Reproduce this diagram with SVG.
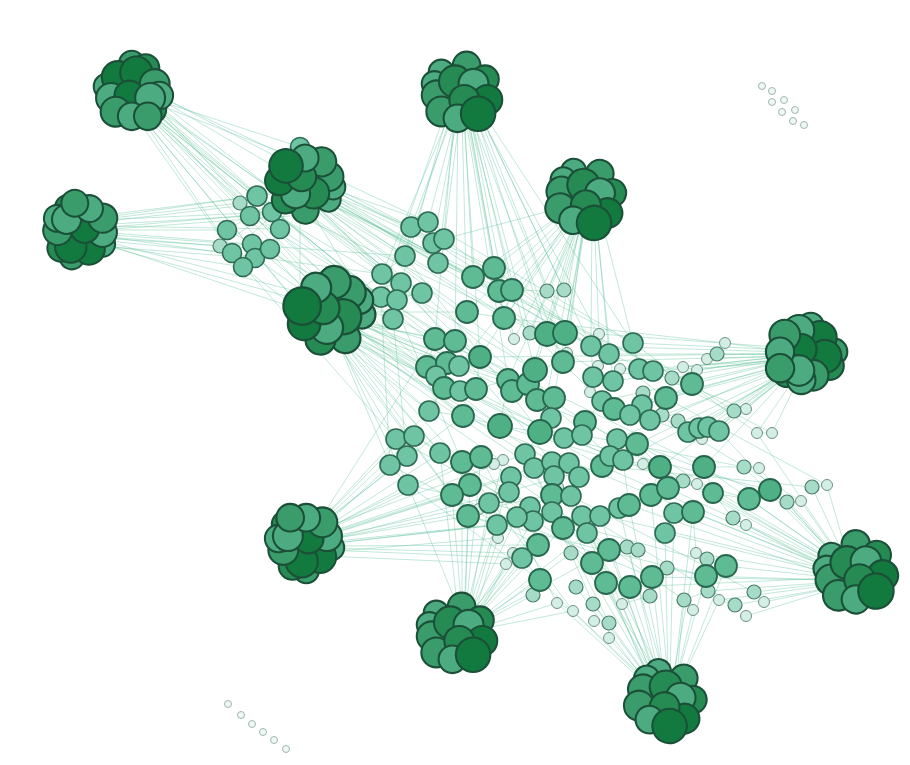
<svg xmlns="http://www.w3.org/2000/svg" xmlns:xlink="http://www.w3.org/1999/xlink" width="910" height="765" viewBox="0 0 910 765">
<style>
.e{fill:none;stroke:#5fc29c;stroke-width:0.55;stroke-opacity:0.7}
.a{fill:#4fb085;stroke:#23634a;stroke-width:1.8}
.b{fill:#5ebb94;stroke:#28684f;stroke-width:1.8}
.c{fill:#6fc5a3;stroke:#2d6b54;stroke-width:1.6}
.s{fill:#a6dbc7;stroke:#4b7d6b;stroke-width:1.2}
.t{fill:#d3eee5;stroke:#6e9287;stroke-width:1}
.i{fill:#eef8f5;stroke:#a3b5b1;stroke-width:1}
.d1,.d2,.d3,.d4{stroke:#1b4f38;stroke-width:1.8}
.d1{fill:#127a3e}.d2{fill:#258b53}.d3{fill:#3a9c6a}.d4{fill:#4cab80}
</style>
<defs>
<g id="clA">
<circle class="d3" cx="-2" cy="-24" r="11"/>
<circle class="d4" cx="-24" cy="-4" r="11"/>
<circle class="d2" cx="10" cy="-20" r="12"/>
<circle class="d1" cx="-14" cy="-12" r="14"/>
<circle class="d1" cx="2" cy="-16" r="14"/>
<circle class="d3" cx="18" cy="-6" r="13"/>
<circle class="d4" cx="-20" cy="6" r="13"/>
<circle class="d1" cx="-4" cy="4" r="13"/>
<circle class="d2" cx="16" cy="16" r="12"/>
<circle class="d4" cx="22" cy="4" r="12"/>
<circle class="d3" cx="-16" cy="18" r="13"/>
<circle class="d4" cx="14" cy="6" r="13"/>
<circle class="d4" cx="-2" cy="22" r="12"/>
<circle class="d3" cx="12" cy="22" r="12"/>
</g>
<g id="clB">
<circle class="d4" cx="-18" cy="-18" r="11"/>
<circle class="d4" cx="-24" cy="-8" r="11"/>
<circle class="d3" cx="4" cy="-24" r="12"/>
<circle class="d2" cx="20" cy="-12" r="12"/>
<circle class="d3" cx="-22" cy="2" r="13"/>
<circle class="d2" cx="-6" cy="-10" r="14"/>
<circle class="d4" cx="10" cy="-8" r="13"/>
<circle class="d1" cx="22" cy="6" r="13"/>
<circle class="d3" cx="-18" cy="16" r="13"/>
<circle class="d2" cx="2" cy="6" r="13"/>
<circle class="d4" cx="-4" cy="22" r="12"/>
<circle class="d1" cx="14" cy="18" r="15"/>
</g>
</defs>
<rect width="910" height="765" fill="#ffffff"/>
<g id="connectors">
<path class="e" d="M140 100L250 216M138 98L257 196M142 102L272 212M136 104L280 229M144 96L300 147M146 100L296 158M140 106L310 282M150 98L330 300M148 104L345 295M144 108L360 320M152 96L382 274M150 102L401 283M146 110L381 297M154 100L393 319M156 94L411 227M152 106L422 293M148 112L435 339M154 108L459 366M140 110L427 367M134 108L320 330M142 112L350 340M138 112L304 312M150 92L428 222M136 110L243 267M132 112L232 253M158 98L438 263"/>
<path class="e" d="M95 220L240 203M96 225L250 216M98 230L227 230M96 236L220 246M98 240L232 253M100 232L252 244M100 238L270 249M98 244L243 267M100 226L280 229M100 222L290 200M100 218L300 190M100 228L310 210M100 240L330 300M100 244L300 300M98 234L405 256M100 236L382 274M100 242L330 320M98 216L257 196M100 220L272 212M96 246L255 258M100 230L290 216"/>
<path class="e" d="M320 190L411 227M322 186L428 222M320 196L405 256M324 192L433 243M322 200L438 263M326 194L473 277M328 188L494 268M324 198L499 291M326 202L512 290M318 204L467 312M322 206L504 318M330 196L547 334M328 192L565 333M330 200L591 346M332 190L633 343M318 208L455 341M320 210L480 357M324 208L535 370M326 206L613 381M330 204L692 384M290 190L250 216M288 186L240 203M288 194L227 230M292 196L270 249M290 198L232 253M288 200L220 246M316 206L422 293M312 206L382 274M314 208L401 283M300 200L300 280M310 210L360 290"/>
<path class="e" d="M345 318L435 339M346 322L455 341M344 326L427 367M348 320L459 366M350 316L480 357M346 330L444 388M342 334L429 411M348 332L463 416M350 326L500 426M340 338L414 436M336 340L396 439M338 342L390 465M340 344L408 485M344 338L440 453M346 336L462 462M352 318L508 380M352 322L528 384M350 330L554 398M348 334L540 432M352 326L564 438M350 320L585 422M348 338L552 462M346 340L534 468M350 336L525 454M350 328L602 466M344 344L470 485M342 346L468 516M340 348L452 495M345 300L382 274M346 296L401 283M348 304L393 319M350 308L422 293M352 312L467 312M348 340L610 456"/>
<path class="e" d="M455 110L411 227M457 112L428 222M452 112L405 256M458 114L433 243M460 114L444 239M456 116L438 263M464 114L473 277M466 112L494 268M468 114L499 291M470 112L512 290M462 116L467 312M468 116L504 318M474 110L547 334M476 108L565 333M472 108L547 291M476 106L564 290M470 116L514 339M472 114L530 333M454 118L435 339M458 118L455 341M464 118L480 357M470 118L535 370M478 110L591 346M450 114L382 274M472 118L563 362M478 112L609 354M466 120L508 380M448 112L401 283M446 110L381 297M480 108L633 343"/>
<path class="e" d="M580 212L547 291M584 214L564 290M576 214L512 290M574 212L499 291M578 216L504 318M580 216L514 339M582 218L530 333M584 216L547 334M586 218L565 333M584 220L567 353M586 220L563 362M580 220L535 370M578 220L528 384M584 222L554 398M572 214L480 357M572 210L467 312M570 208L473 277M574 206L494 268M592 216L591 346M594 216L599 334M596 216L609 354M578 222L508 380M574 218L459 366M580 224L540 432M600 214L633 343M568 206L444 239M596 218L613 381"/>
<path class="e" d="M790 352L725 343M790 356L707 359M792 354L717 354M790 360L692 384M790 358L697 370M790 356L683 367M792 358L672 378M790 362L653 371M790 360L639 369M788 350L633 343M788 354L609 354M790 348L599 334M792 362L666 398M790 366L642 405M794 366L699 428M796 364L708 427M796 368L719 431M796 366L734 411M798 364L746 409M792 368L688 432M792 370L660 467M794 370L704 467M790 368L650 420M790 370L637 444M788 364L617 439M788 360L602 401M788 358L613 381M788 356L593 377M786 352L591 346M800 370L757 433M802 372L772 433M792 372L623 460M786 356L563 362M786 354L480 357M790 364L614 409M798 368L702 439"/>
<path class="e" d="M840 560L770 490M838 562L749 499M836 564L713 493M836 560L704 467M834 566L683 481M836 566L668 488M836 570L693 512M834 572L674 513M834 574L665 533M834 570L651 495M832 576L629 505M836 578L726 566M834 580L706 576M834 576L696 553M836 582L708 591M838 584L719 600M840 586L735 605M840 582L754 592M842 586L764 602M838 574L733 518M840 572L746 525M842 566L787 502M844 564L801 501M846 560L812 487M848 558L827 485M840 564L744 467M842 562L759 468M834 562L660 467M832 560L637 444M836 556L719 431M840 556L757 433M832 580L652 577M832 578L630 587M834 568L602 466M830 570L609 517M836 588L746 616"/>
<path class="e" d="M320 530L390 465M322 532L408 485M318 528L407 456M316 526L396 439M318 526L414 436M324 536L452 495M324 534L470 485M326 540L468 516M326 538L489 503M326 544L497 525M326 548L513 553M326 550L522 558M322 530L440 453M324 530L462 462M324 532L481 457M326 536L511 477M318 524L429 411M320 524L463 416M326 534L534 468M326 540L552 495M326 546L538 545M326 544L533 521M328 540L602 466M326 552L498 538M326 556L506 564M320 520L435 339M324 528L525 454M326 542L582 516"/>
<path class="e" d="M465 615L468 516M468 616L489 503M470 618L497 525M472 620L513 553M474 620L522 558M472 622L498 538M474 624L506 564M476 626L533 595M476 622L540 580M474 618L538 545M470 614L517 517M472 614L533 521M474 616L552 512M476 618L563 528M478 620L587 533M462 612L452 495M464 612L470 485M468 612L511 477M478 628L557 603M478 624L571 553M458 612L440 453M462 610L462 462M466 610L481 457M472 612L579 477M478 622L609 550M466 612L503 460M460 612L408 485M476 630L573 611"/>
<path class="e" d="M655 680L592 563M658 680L609 550M652 682L606 583M660 680L630 587M664 680L652 577M650 684L573 611M652 684L593 604M654 686L609 623M656 684L622 604M654 688L609 638M648 686L557 603M650 682L587 533M656 680L600 516M660 678L619 508M664 678L629 505M668 678L651 495M670 678L674 513M674 680L693 512M672 682L696 553M676 682L706 576M676 686L684 600M674 688L693 610M680 684L719 600M680 682L726 566M650 688L576 587M652 680L563 528M654 678L582 516M658 676L552 495M662 676L571 496M648 684L540 580M668 676L665 533M664 676L627 547"/>
<path class="e" d="M411 227L428 222M411 227L405 256M428 222L444 239M433 243L438 263M405 256L382 274M382 274L401 283M401 283L381 297M397 300L393 319M422 293L401 283M438 263L473 277M473 277L494 268M494 268L499 291M499 291L512 290M467 312L504 318M504 318L514 339M512 290L547 291M547 291L564 290M530 333L547 334M547 334L565 333M565 333L591 346M591 346L609 354M609 354L633 343M435 339L455 341M455 341L480 357M427 367L447 363M447 363L459 366M436 376L444 388M460 391L476 389M476 389L508 380M508 380L528 384M528 384L535 370M512 391L537 400M537 400L554 398M554 398L551 418M551 418L540 432M540 432L564 438M564 438L582 435M582 435L585 422M585 422L602 401M602 401L614 409M614 409L642 405M642 405L666 398M666 398L692 384M692 384L672 378M639 369L653 371M613 381L593 377M620 369L639 369M630 415L650 420M617 439L637 444M637 444L660 467M688 432L699 428M708 427L719 431M719 431L734 411M734 411L746 409M757 433L772 433M429 411L463 416M463 416L500 426M500 426L540 432M396 439L414 436M407 456L390 465M390 465L408 485M440 453L462 462M462 462L481 457M481 457L511 477M470 485L452 495M452 495L468 516M468 516L489 503M489 503L509 492M509 492L530 507M530 507L552 495M552 495L571 496M571 496L582 516M582 516L600 516M600 516L619 508M619 508L629 505M629 505L651 495M651 495L668 488M668 488L683 481M683 481L704 467M704 467L713 493M713 493L749 499M749 499L770 490M770 490L787 502M787 502L801 501M812 487L827 485M744 467L759 468M733 518L746 525M525 454L534 468M534 468L552 462M552 462L569 463M569 463L579 477M579 477L602 466M602 466L610 456M610 456L623 460M623 460L643 464M643 464L660 467M552 512L563 528M563 528L587 533M587 533L609 550M609 550L592 563M592 563L606 583M606 583L630 587M630 587L652 577M652 577L667 568M667 568L706 576M706 576L726 566M696 553L707 559M684 600L708 591M719 600L735 605M754 592L764 602M533 521L517 517M517 517L497 525M497 525L498 538M538 545L522 558M522 558L540 580M540 580L533 595M557 603L573 611M593 604L609 623M609 623L609 638M622 604L650 596M627 547L638 550M665 533L674 513M674 513L693 512M435 339L427 367M480 357L476 389M444 388L429 411M500 426L508 380M563 362L535 370M567 353L563 362M591 346L593 377M633 343L639 369M666 398L650 420M650 420L688 432M585 422L617 439M540 432L525 454M511 477L509 492M554 476L552 495M579 477L571 496M623 460L629 505M660 467L651 495M704 467L744 467M713 493L733 518M693 512L696 553M609 550L627 547M582 516L587 533M468 516L497 525M408 485L452 495M414 436L440 453M462 462L470 485"/>
<path class="e" d="M250 216L480 357M257 196L547 334M272 212L535 370M227 230L435 339M252 244L463 416M270 249L500 426M243 267L429 411M280 229L508 380M232 253L396 439M255 258L444 388M411 227L591 346M428 222L633 343M444 239L609 354M405 256L540 432M382 274L462 462M393 319L407 456M381 297L390 465M401 283L552 462M422 293L610 456M473 277L602 401M494 268L666 398M499 291L692 384M504 318L725 343M455 341L660 467M480 357L704 467M500 426L749 499M540 432L770 490M564 438L713 493M602 466L812 487M582 435L744 467M637 444L787 502M463 416L651 495M429 411L582 516M396 439L563 528M414 436L609 550M440 453L630 587M452 495L652 577M468 516L706 576M489 503L726 566M390 465L538 545M408 485L540 580M511 477L684 600M552 495L735 605M571 496L754 592M534 468L593 604M525 454L609 623M481 457L557 603M462 462L573 611M633 343L757 433M653 371L772 433M692 384L734 411M609 354L746 409M666 398L827 485M642 405L801 501"/>
</g>
<g id="isolated-nodes">
<circle class="i" cx="762" cy="86" r="3.5"/><circle class="i" cx="772" cy="91" r="3.5"/><circle class="i" cx="772" cy="102" r="3.5"/><circle class="i" cx="784" cy="100" r="3.5"/><circle class="i" cx="782" cy="112" r="3.5"/><circle class="i" cx="795" cy="110" r="3.5"/><circle class="i" cx="793" cy="121" r="3.5"/><circle class="i" cx="804" cy="125" r="3.5"/>
<circle class="i" cx="228" cy="704" r="3.5"/><circle class="i" cx="241" cy="715" r="3.5"/><circle class="i" cx="252" cy="724" r="3.5"/><circle class="i" cx="263" cy="732" r="3.5"/><circle class="i" cx="274" cy="740" r="3.5"/><circle class="i" cx="286" cy="749" r="3.5"/>
</g>
<g id="small-nodes">
<circle class="t" cx="514" cy="339" r="5.5"/><circle class="t" cx="567" cy="353" r="5.5"/><circle class="t" cx="599" cy="334" r="5.5"/><circle class="t" cx="551" cy="412" r="5.5"/><circle class="t" cx="598" cy="366" r="5.5"/><circle class="t" cx="620" cy="369" r="5.5"/><circle class="t" cx="683" cy="367" r="5.5"/><circle class="t" cx="697" cy="370" r="5.5"/><circle class="t" cx="707" cy="359" r="5.5"/><circle class="t" cx="725" cy="343" r="5.5"/><circle class="t" cx="590" cy="392" r="5.5"/><circle class="t" cx="702" cy="439" r="5.5"/><circle class="t" cx="746" cy="409" r="5.5"/><circle class="t" cx="757" cy="433" r="5.5"/><circle class="t" cx="772" cy="433" r="5.5"/><circle class="t" cx="501" cy="497" r="5.5"/><circle class="t" cx="479" cy="509" r="5.5"/><circle class="t" cx="503" cy="460" r="5.5"/><circle class="t" cx="494" cy="464" r="5.5"/><circle class="t" cx="558" cy="487" r="5.5"/><circle class="t" cx="643" cy="464" r="5.5"/><circle class="t" cx="697" cy="484" r="5.5"/><circle class="t" cx="513" cy="553" r="5.5"/><circle class="t" cx="498" cy="538" r="5.5"/><circle class="t" cx="506" cy="564" r="5.5"/><circle class="t" cx="557" cy="603" r="5.5"/><circle class="t" cx="573" cy="611" r="5.5"/><circle class="t" cx="594" cy="621" r="5.5"/><circle class="t" cx="609" cy="638" r="5.5"/><circle class="t" cx="622" cy="604" r="5.5"/><circle class="t" cx="696" cy="553" r="5.5"/><circle class="t" cx="719" cy="600" r="5.5"/><circle class="t" cx="764" cy="602" r="5.5"/><circle class="t" cx="746" cy="616" r="5.5"/><circle class="t" cx="693" cy="610" r="5.5"/><circle class="t" cx="759" cy="468" r="5.5"/><circle class="t" cx="746" cy="525" r="5.5"/><circle class="t" cx="801" cy="501" r="5.5"/><circle class="t" cx="827" cy="485" r="5.5"/>
<circle class="s" cx="240" cy="203" r="7"/><circle class="s" cx="220" cy="246" r="7"/><circle class="s" cx="296" cy="158" r="7"/><circle class="s" cx="547" cy="291" r="7"/><circle class="s" cx="564" cy="290" r="7"/><circle class="s" cx="530" cy="333" r="7"/><circle class="s" cx="672" cy="378" r="7"/><circle class="s" cx="717" cy="354" r="7"/><circle class="s" cx="643" cy="393" r="7"/><circle class="s" cx="662" cy="415" r="7"/><circle class="s" cx="678" cy="421" r="7"/><circle class="s" cx="734" cy="411" r="7"/><circle class="s" cx="683" cy="481" r="7"/><circle class="s" cx="533" cy="595" r="7"/><circle class="s" cx="571" cy="553" r="7"/><circle class="s" cx="576" cy="587" r="7"/><circle class="s" cx="593" cy="604" r="7"/><circle class="s" cx="609" cy="623" r="7"/><circle class="s" cx="650" cy="596" r="7"/><circle class="s" cx="627" cy="547" r="7"/><circle class="s" cx="638" cy="550" r="7"/><circle class="s" cx="667" cy="568" r="7"/><circle class="s" cx="707" cy="559" r="7"/><circle class="s" cx="684" cy="600" r="7"/><circle class="s" cx="708" cy="591" r="7"/><circle class="s" cx="735" cy="605" r="7"/><circle class="s" cx="754" cy="592" r="7"/><circle class="s" cx="744" cy="467" r="7"/><circle class="s" cx="733" cy="518" r="7"/><circle class="s" cx="787" cy="502" r="7"/><circle class="s" cx="812" cy="487" r="7"/>
</g>
<g id="core-nodes">
<circle class="c" cx="257" cy="196" r="10"/><circle class="c" cx="250" cy="216" r="9.5"/><circle class="c" cx="272" cy="212" r="9.5"/><circle class="c" cx="227" cy="230" r="9.5"/><circle class="c" cx="232" cy="253" r="9.5"/><circle class="c" cx="252" cy="244" r="9.5"/><circle class="c" cx="255" cy="258" r="9.5"/><circle class="c" cx="270" cy="249" r="9.5"/><circle class="c" cx="243" cy="267" r="9.5"/><circle class="c" cx="280" cy="229" r="9.5"/><circle class="c" cx="300" cy="147" r="9.5"/>
<circle class="c" cx="411" cy="227" r="10"/><circle class="c" cx="428" cy="222" r="10"/><circle class="c" cx="405" cy="256" r="10"/><circle class="c" cx="433" cy="243" r="10"/><circle class="c" cx="444" cy="239" r="10"/><circle class="c" cx="438" cy="263" r="10"/><circle class="c" cx="382" cy="274" r="10"/><circle class="c" cx="401" cy="283" r="10"/><circle class="c" cx="381" cy="297" r="10"/><circle class="c" cx="397" cy="300" r="10"/><circle class="c" cx="393" cy="319" r="10"/><circle class="c" cx="422" cy="293" r="10"/>
<circle class="b" cx="473" cy="277" r="11"/><circle class="b" cx="494" cy="268" r="11"/><circle class="b" cx="499" cy="291" r="11"/><circle class="b" cx="512" cy="290" r="11"/><circle class="b" cx="467" cy="312" r="11"/><circle class="b" cx="504" cy="318" r="11"/>
<circle class="b" cx="435" cy="339" r="11"/><circle class="b" cx="455" cy="341" r="11"/><circle class="a" cx="480" cy="357" r="11"/><circle class="b" cx="427" cy="367" r="11"/><circle class="b" cx="447" cy="363" r="11"/><circle class="c" cx="459" cy="366" r="10"/><circle class="c" cx="436" cy="376" r="10"/><circle class="b" cx="444" cy="388" r="11"/><circle class="c" cx="460" cy="391" r="10"/><circle class="b" cx="476" cy="389" r="11"/><circle class="c" cx="429" cy="411" r="10"/><circle class="b" cx="463" cy="416" r="11"/><circle class="a" cx="500" cy="426" r="12"/>
<circle class="a" cx="547" cy="334" r="12"/><circle class="a" cx="565" cy="333" r="12"/><circle class="b" cx="563" cy="362" r="11"/><circle class="c" cx="591" cy="346" r="10"/><circle class="c" cx="609" cy="354" r="10"/><circle class="c" cx="633" cy="343" r="10"/>
<circle class="b" cx="508" cy="380" r="11"/><circle class="b" cx="512" cy="391" r="11"/><circle class="b" cx="528" cy="384" r="11"/><circle class="a" cx="535" cy="370" r="12"/><circle class="b" cx="537" cy="400" r="11"/><circle class="b" cx="554" cy="398" r="11"/><circle class="c" cx="551" cy="418" r="10"/><circle class="a" cx="540" cy="432" r="12"/>
<circle class="c" cx="593" cy="377" r="10"/><circle class="c" cx="613" cy="381" r="10"/><circle class="c" cx="639" cy="369" r="10"/><circle class="c" cx="653" cy="371" r="10"/><circle class="b" cx="692" cy="384" r="11"/><circle class="b" cx="666" cy="398" r="11"/><circle class="c" cx="602" cy="401" r="10"/><circle class="b" cx="614" cy="409" r="11"/><circle class="c" cx="642" cy="405" r="10"/><circle class="c" cx="630" cy="415" r="10"/><circle class="c" cx="650" cy="420" r="10"/><circle class="b" cx="585" cy="422" r="11"/><circle class="c" cx="564" cy="438" r="10"/><circle class="c" cx="582" cy="435" r="10"/><circle class="c" cx="617" cy="439" r="10"/><circle class="b" cx="637" cy="444" r="11"/><circle class="c" cx="688" cy="432" r="10"/><circle class="c" cx="699" cy="428" r="10"/><circle class="c" cx="708" cy="427" r="10"/><circle class="c" cx="719" cy="431" r="10"/>
<circle class="c" cx="396" cy="439" r="10"/><circle class="c" cx="414" cy="436" r="10"/><circle class="c" cx="407" cy="456" r="10"/><circle class="c" cx="390" cy="465" r="10"/><circle class="c" cx="408" cy="485" r="10"/><circle class="c" cx="440" cy="453" r="10"/><circle class="b" cx="462" cy="462" r="11"/><circle class="b" cx="481" cy="457" r="11"/><circle class="b" cx="470" cy="485" r="11"/><circle class="b" cx="452" cy="495" r="11"/><circle class="b" cx="468" cy="516" r="11"/><circle class="c" cx="489" cy="503" r="10"/><circle class="c" cx="511" cy="477" r="10"/><circle class="c" cx="525" cy="454" r="10"/><circle class="c" cx="534" cy="468" r="10"/>
<circle class="c" cx="552" cy="462" r="10"/><circle class="c" cx="569" cy="463" r="10"/><circle class="c" cx="554" cy="476" r="10"/><circle class="c" cx="579" cy="477" r="10"/><circle class="b" cx="602" cy="466" r="11"/><circle class="c" cx="610" cy="456" r="10"/><circle class="c" cx="623" cy="460" r="10"/><circle class="a" cx="660" cy="467" r="11"/><circle class="a" cx="704" cy="467" r="11"/><circle class="b" cx="713" cy="493" r="10"/>
<circle class="c" cx="509" cy="492" r="10"/><circle class="c" cx="530" cy="507" r="10"/><circle class="b" cx="552" cy="495" r="11"/><circle class="c" cx="571" cy="496" r="10"/><circle class="c" cx="582" cy="516" r="10"/><circle class="c" cx="600" cy="516" r="10"/><circle class="c" cx="619" cy="508" r="10"/><circle class="b" cx="629" cy="505" r="11"/><circle class="b" cx="651" cy="495" r="11"/><circle class="b" cx="668" cy="488" r="11"/><circle class="c" cx="674" cy="513" r="10"/><circle class="b" cx="693" cy="512" r="11"/>
<circle class="c" cx="552" cy="512" r="10"/><circle class="b" cx="563" cy="528" r="11"/><circle class="c" cx="533" cy="521" r="10"/><circle class="c" cx="517" cy="517" r="10"/><circle class="c" cx="497" cy="525" r="10"/><circle class="b" cx="538" cy="545" r="11"/><circle class="c" cx="522" cy="558" r="10"/><circle class="b" cx="540" cy="580" r="11"/>
<circle class="c" cx="587" cy="533" r="10"/><circle class="b" cx="609" cy="550" r="11"/><circle class="b" cx="592" cy="563" r="11"/><circle class="b" cx="606" cy="583" r="11"/><circle class="b" cx="630" cy="587" r="11"/><circle class="b" cx="652" cy="577" r="11"/><circle class="c" cx="665" cy="533" r="10"/><circle class="b" cx="706" cy="576" r="11"/><circle class="b" cx="726" cy="566" r="11"/>
<circle class="b" cx="749" cy="499" r="11"/><circle class="a" cx="770" cy="490" r="11"/>
</g>
<g id="cluster-1"><use xlink:href="#clA" href="#clA" transform="translate(134,91) scale(1.15)"/></g>
<g id="cluster-2"><use xlink:href="#clA" href="#clA" transform="translate(79,231) scale(1.12) rotate(200)"/></g>
<g id="cluster-3"><use xlink:href="#clB" href="#clB" transform="translate(305,183) scale(1.12) rotate(170)"/></g>
<g id="cluster-4"><use xlink:href="#clB" href="#clB" transform="translate(330,312) scale(1.25) rotate(140)"/></g>
<g id="cluster-5"><use xlink:href="#clB" href="#clB" transform="translate(462,93) scale(1.15)"/></g>
<g id="cluster-6"><use xlink:href="#clB" href="#clB" transform="translate(586,198) scale(1.15) rotate(20)"/></g>
<g id="cluster-7"><use xlink:href="#clA" href="#clA" transform="translate(806,354) scale(1.18) rotate(90)"/></g>
<g id="cluster-8"><use xlink:href="#clB" href="#clB" transform="translate(856,573) scale(1.18) rotate(-10)"/></g>
<g id="cluster-9"><use xlink:href="#clA" href="#clA" transform="translate(304,543) scale(1.15) rotate(180)"/></g>
<g id="cluster-10"><use xlink:href="#clB" href="#clB" transform="translate(457,634) scale(1.15)"/></g>
<g id="cluster-11"><use xlink:href="#clB" href="#clB" transform="translate(666,700) scale(1.15) rotate(30)"/></g>
</svg>
